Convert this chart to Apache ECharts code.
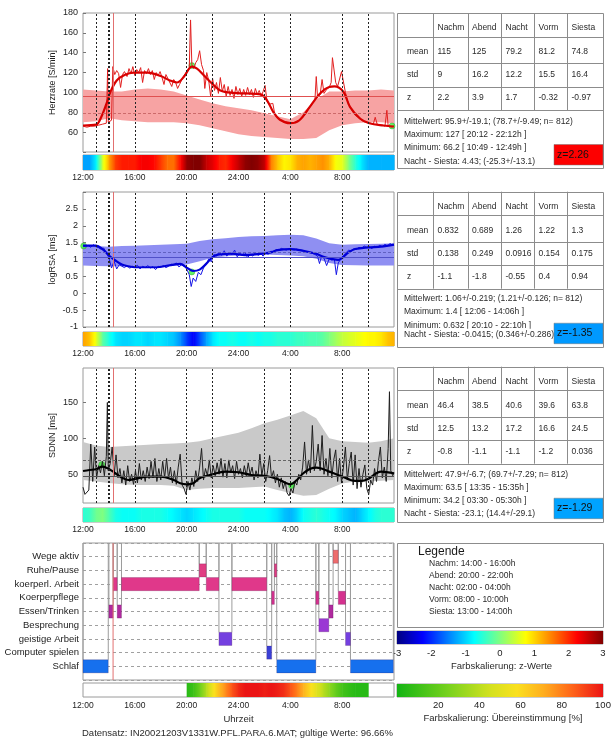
<!DOCTYPE html>
<html>
<head>
<meta charset="utf-8">
<script src="https://cdn.jsdelivr.net/npm/echarts@6/dist/echarts.min.js"></script>
<style>
html,body{margin:0;padding:0;background:#fff}
#chart{width:612px;height:740px}
</style>
</head>
<body>
<div id="chart"></div>
<script>
// ---------- time axis ----------
const timeTicks = ['12:00', '16:00', '20:00', '24:00', '4:00', '8:00'];
const vLines = [1, 1.95, 2, 4, 8, 10, 14, 16, 20, 22];
const redLineHour = 2.32;

// ---------- reference bands (hourly) ----------
const bandHours = [0,1,2,3,4,5,6,7,8,9,10,11,12,13,14,15,16,17,18,19,20,21,22,23,24];
const hrUpper = [103,102,101,101,103,104,103,101,97,93,89,86,84,82,79,76,73,80,93,101,101,102,102,103,102];
const hrLower = [70,71,74,72,71,70,70,70,69,67,64,61,58,56,55,54,53,53,54,62,67,69,70,70,69];
const rsaUpper = [1.41,1.40,1.38,1.40,1.41,1.42,1.44,1.45,1.47,1.55,1.60,1.63,1.67,1.69,1.70,1.72,1.73,1.72,1.62,1.48,1.44,1.45,1.46,1.47,1.48];
const rsaLower = [0.82,0.81,0.80,0.80,0.80,0.80,0.80,0.81,0.85,0.95,1.05,1.10,1.12,1.14,1.15,1.13,1.12,1.10,1.02,0.90,0.84,0.83,0.82,0.82,0.82];
const sdUpper = [95,90,88,89,90,91,92,93,94,96,100,104,108,114,121,126,132,138,128,100,96,95,94,96,100];
const sdLower = [42,40,38,36,35,35,35,34,28,30,31,31,31,32,33,28,24,20,21,30,37,40,40,41,42];

// ---------- heart rate ----------
const hrRaw = [[0,66],[0.3,65],[0.6,66],[0.9,66],[1.2,67],[1.5,68],[1.8,69],[1.9,124],[1.95,70],[2.1,68],[2.2,72],[2.3,126],[2.45,118],[2.6,122],[2.75,119],[2.9,105],[3.05,118],[3.2,121],[3.4,116],[3.55,124],[3.7,119],[3.85,126],[4.0,117],[4.15,123],[4.3,120],[4.45,125],[4.6,110],[4.75,122],[4.9,119],[5.05,124],[5.2,118],[5.35,122],[5.5,113],[5.65,120],[5.8,117],[5.95,121],[6.1,115],[6.25,108],[6.4,118],[6.55,114],[6.7,116],[6.85,106],[7.0,113],[7.15,110],[7.3,104],[7.45,108],[7.6,112],[7.75,116],[7.9,119],[8.05,122],[8.2,125],[8.3,173],[8.4,128],[8.55,124],[8.7,130],[8.85,133],[9.0,142],[9.15,128],[9.3,122],[9.4,104],[9.55,120],[9.7,112],[9.85,96],[10.0,114],[10.15,102],[10.3,110],[10.45,99],[10.6,115],[10.75,101],[10.9,108],[11.05,96],[11.2,106],[11.35,97],[11.5,103],[11.65,94],[11.8,106],[11.95,98],[12.1,104],[12.25,96],[12.4,103],[12.55,97],[12.7,105],[12.85,98],[13.0,103],[13.15,95],[13.3,104],[13.45,98],[13.6,102],[13.75,96],[13.9,101],[14.05,107],[14.2,91],[14.35,88],[14.5,86],[14.65,89],[14.8,78],[14.95,75],[15.1,73],[15.3,72],[15.5,70],[15.7,70],[15.9,69],[16.1,69],[16.3,70],[16.5,71],[16.7,72],[16.9,74],[17.1,77],[17.3,81],[17.5,85],[17.7,89],[17.9,93],[18.0,116],[18.1,95],[18.3,98],[18.45,113],[18.6,99],[18.8,103],[19.0,105],[19.15,110],[19.25,135],[19.4,137],[19.5,110],[19.65,106],[19.8,104],[19.95,121],[20.1,123],[20.25,100],[20.4,92],[20.6,86],[20.8,81],[21.0,77],[21.2,75],[21.4,73],[21.6,71],[21.8,70],[22.0,69],[22.2,69],[22.4,68],[22.55,75],[22.7,68],[22.9,67],[23.1,67],[23.3,66],[23.45,82],[23.55,66],[23.7,66],[23.85,65],[24,66]];
const hrSmooth = [[0,66.7],[1,67.5],[1.4,75],[1.9,92],[2.1,100],[2.6,112],[3.2,117.5],[3.9,120],[5,120],[6,116.5],[6.7,112],[7.25,110],[7.8,116],[8.4,126],[8.8,124],[9.3,117.5],[9.95,109],[10.6,102],[11.6,99.5],[12.6,99],[13.7,98],[14.2,92],[14.7,80],[15.2,72.5],[16,69],[16.7,72],[17.5,85.5],[18.3,99],[19,105.5],[19.4,106],[20.1,100.5],[20.6,85.5],[21.4,73.5],[22.1,69],[23.2,66.7],[24,65.7]];
const hrMarks = [[8.4,127],[23.85,66.2]];
const hrMean = 95.9, hrRef = 78.7;

// ---------- logRSA ----------
const rsaRaw = [[0,1.40],[0.2,1.38],[0.4,1.42],[0.6,1.36],[0.8,1.44],[1.0,1.38],[1.2,1.35],[1.4,1.30],[1.6,1.34],[1.8,1.20],[2.0,1.05],[2.2,0.75],[2.4,0.95],[2.6,0.72],[2.8,0.85],[3.0,0.80],[3.2,0.76],[3.4,0.82],[3.6,0.74],[3.8,0.80],[4.0,0.78],[4.2,0.83],[4.4,0.72],[4.6,0.80],[4.8,0.76],[5.0,0.82],[5.2,0.75],[5.4,0.79],[5.6,0.70],[5.8,0.80],[6.0,0.77],[6.2,0.82],[6.4,0.76],[6.6,0.80],[6.8,0.86],[7.0,0.84],[7.2,0.90],[7.4,0.78],[7.6,0.84],[7.8,0.80],[8.0,0.72],[8.2,0.55],[8.35,0.20],[8.5,0.45],[8.7,0.35],[8.9,0.62],[9.1,0.55],[9.3,0.75],[9.5,0.85],[9.7,1.02],[9.9,0.93],[10.1,1.15],[10.3,1.10],[10.5,1.22],[10.7,1.12],[10.9,1.26],[11.1,1.10],[11.3,1.20],[11.5,1.14],[11.7,1.28],[11.9,1.08],[12.1,1.18],[12.3,1.12],[12.5,1.22],[12.7,1.05],[12.9,1.16],[13.1,1.10],[13.3,1.20],[13.5,1.12],[13.7,1.18],[13.9,1.10],[14.1,1.20],[14.3,1.15],[14.5,1.25],[14.7,1.22],[14.9,1.30],[15.1,1.27],[15.3,1.33],[15.5,1.30],[15.7,1.28],[15.9,1.32],[16.1,1.30],[16.3,1.28],[16.5,1.31],[16.7,1.27],[16.9,1.26],[17.1,1.24],[17.3,1.22],[17.5,1.20],[17.7,1.18],[17.9,1.15],[18.1,1.10],[18.25,0.88],[18.4,1.08],[18.6,1.04],[18.8,0.82],[19.0,1.02],[19.2,0.98],[19.4,1.00],[19.55,0.55],[19.7,0.90],[19.9,1.02],[20.1,1.12],[20.3,1.20],[20.5,1.28],[20.7,1.25],[20.9,1.32],[21.1,1.30],[21.3,1.36],[21.5,1.33],[21.7,1.40],[21.9,1.35],[22.1,1.38],[22.3,1.32],[22.5,1.40],[22.7,1.36],[22.9,1.42],[23.1,1.38],[23.3,1.45],[23.5,1.40],[23.7,1.48],[23.85,1.42],[24,1.44]];
const rsaSmooth = [[0,1.41],[1,1.41],[1.5,1.31],[2,1.12],[2.5,0.97],[3,0.85],[3.5,0.80],[4,0.77],[5.5,0.77],[7,0.85],[7.5,0.87],[8,0.76],[8.5,0.66],[9,0.70],[9.5,0.87],[10,1.07],[10.5,1.15],[11.5,1.17],[12.5,1.13],[13.5,1.16],[14.5,1.21],[15,1.28],[16,1.31],[17,1.26],[18,1.17],[18.5,1.09],[19.2,1.02],[19.7,0.99],[20,1.05],[20.5,1.21],[21,1.31],[22,1.36],[23,1.38],[24,1.44]];
const rsaMarks = [[0.05,1.4],[8.4,0.632]];
const rsaMean = 1.06, rsaRef = 1.21;

// ---------- SDNN ----------
const sdRaw = [[0,32],[0.15,22],[0.3,20],[0.45,28],[0.6,92],[0.75,40],[0.9,88],[1.05,45],[1.2,62],[1.35,52],[1.5,68],[1.65,48],[1.8,75],[1.88,150],[1.95,55],[2.1,65],[2.25,88],[2.4,48],[2.55,77],[2.7,45],[2.85,58],[3.0,38],[3.15,55],[3.3,35],[3.45,62],[3.6,40],[3.75,50],[3.9,36],[4.05,55],[4.2,38],[4.35,65],[4.5,42],[4.65,55],[4.8,40],[4.95,60],[5.1,44],[5.25,68],[5.4,45],[5.55,72],[5.7,40],[5.85,58],[6.0,42],[6.15,68],[6.3,45],[6.45,72],[6.6,44],[6.75,60],[6.9,38],[7.05,55],[7.2,36],[7.35,60],[7.5,78],[7.65,35],[7.8,30],[7.95,22],[8.1,40],[8.25,28],[8.4,45],[8.55,33],[8.7,55],[8.85,40],[9.0,60],[9.15,86],[9.3,42],[9.45,58],[9.6,48],[9.75,70],[9.9,45],[10.05,62],[10.2,48],[10.35,66],[10.5,50],[10.65,72],[10.8,46],[10.95,65],[11.1,45],[11.25,70],[11.4,52],[11.55,62],[11.7,44],[11.85,68],[12.0,50],[12.15,58],[12.3,45],[12.45,62],[12.6,48],[12.75,66],[12.9,50],[13.05,60],[13.2,42],[13.35,55],[13.5,45],[13.65,78],[13.8,48],[13.95,65],[14.1,40],[14.25,55],[14.4,76],[14.55,45],[14.7,55],[14.85,38],[15.0,50],[15.15,32],[15.3,45],[15.45,30],[15.6,40],[15.75,24],[15.9,20],[16.05,30],[16.2,24],[16.35,40],[16.5,35],[16.65,50],[16.8,42],[16.95,60],[17.1,95],[17.25,50],[17.4,70],[17.55,52],[17.7,118],[17.85,55],[18.0,68],[18.15,92],[18.3,55],[18.45,104],[18.6,50],[18.75,72],[18.9,48],[19.05,86],[19.2,45],[19.35,70],[19.5,84],[19.65,40],[19.8,72],[19.95,38],[20.1,60],[20.25,88],[20.4,42],[20.55,65],[20.7,81],[20.85,35],[21.0,77],[21.15,30],[21.3,58],[21.45,32],[21.6,50],[21.75,63],[21.9,30],[22.05,22],[22.2,42],[22.35,35],[22.5,58],[22.65,40],[22.8,68],[22.95,88],[23.1,45],[23.25,60],[23.4,40],[23.55,86],[23.65,165],[23.75,55],[23.9,48],[24,52]];
const sdSmooth = [[0,54.6],[0.5,56],[1,57],[1.5,60.6],[2,57.4],[2.5,51.4],[3,45.4],[3.5,42],[4,43.5],[5,46.8],[6,46.8],[7,42],[7.5,37.5],[8,36],[8.5,37.5],[9,44.4],[10,50],[11,53.7],[12,52.8],[13,49],[14,48],[15,43.5],[15.7,37.5],[16,36],[16.5,42],[17,51.4],[17.5,57.4],[18,59.3],[18.5,57.4],[19,53.7],[20,46.8],[21,40.7],[21.5,40.7],[22,43.5],[23,53.7],[24,51.4]];
const sdMarks = [[1.45,63.5],[16.1,34.2]];
const sdMean = 47.9, sdRef = 69.7;

// ---------- z-value strips (samples every 30 min) ----------
const zHours = Array.from({length: 49}, (_, i) => i * 0.5);
const hrZ  = [-1.3,-1.3,-0.8,0.5,1.3,1.9,2.1,2.1,2.1,2.3,2.3,2.2,1.9,1.6,1.6,2.2,2.9,3.0,3.0,2.6,2.4,2.1,2.0,2.3,2.6,2.9,3.0,2.9,2.6,1.5,1.1,0.8,0.9,1.2,1.3,1.2,1.3,1.4,1.2,0.7,0.6,0.0,-0.5,-0.9,-1.2,-1.2,-1.2,-1.2,-1.2];
const rsaZ = [1.3,1.1,0.6,-0.2,-0.6,-0.9,-1.0,-1.0,-0.9,-0.9,-1.0,-0.9,-0.9,-1.0,-1.1,-1.4,-1.9,-2.3,-1.8,-1.3,-0.9,-0.7,-0.7,-0.6,-0.7,-0.7,-0.6,-0.7,-0.6,-0.6,-0.5,-0.5,-0.5,-0.4,-0.4,-0.3,-0.3,-0.2,0.0,0.2,0.4,0.5,0.6,0.7,0.8,0.8,0.9,1.1,1.2];
const sdZ  = [-0.5,-0.4,-0.1,0.0,-0.3,-0.6,-0.7,-0.7,-0.7,-0.6,-0.6,-0.6,-0.6,-0.7,-0.8,-0.9,-1.0,-0.9,-0.8,-0.7,-0.6,-0.6,-0.6,-0.6,-0.6,-0.7,-0.7,-0.7,-0.7,-0.8,-0.9,-1.1,-1.2,-1.0,-0.7,-0.6,-0.5,-0.6,-0.7,-0.8,-1.0,-1.1,-1.2,-1.0,-0.8,-0.6,-0.5,-0.5,-0.5];

// ---------- agreement with reference [%] ----------
const matchHours = [8,8.5,9,9.5,10,10.5,11,11.5,12,12.5,13,13.5,14,14.5,15,15.5,16,16.5,17,17.5,18,18.5,19,19.5,20,20.5,21,21.5,22];
const matchVals  = [5,10,22,38,55,68,78,88,96,100,100,100,98,100,98,95,88,80,70,60,50,40,30,20,12,8,5,5,5];

// ---------- activity log ----------
const actNames = ['Schlaf','Computer spielen','geistige Arbeit','Besprechung','Essen/Trinken','Koerperpflege','koerperl. Arbeit','Ruhe/Pause','Wege aktiv'];
const actColors = ['#1670ee','#3a40d6','#7440e0','#9a38d4','#b02a9e','#d4318e','#e0388a','#e03c82','#ee6c6c'];
const activities = [
  [0,1.95,1],[14.95,17.97,1],[20.64,23.95,1],
  [14.18,14.56,2],
  [10.49,11.49,3],[20.26,20.64,3],
  [18.2,18.97,4],
  [2.0,2.33,5],[2.64,2.97,5],[18.97,19.3,5],
  [14.56,14.77,6],[17.97,18.2,6],[19.7,20.26,6],
  [2.33,2.64,7],[2.97,8.97,7],[9.51,10.49,7],[11.49,14.18,7],
  [8.97,9.51,8],[14.77,14.95,8],
  [19.3,19.7,9]
];

// ---------- summary tables ----------
const periods = ['Nachm','Abend','Nacht','Vorm','Siesta'];
const hrMeanRow = ['115','125','79.2','81.2','74.8'];
const hrStdRow  = ['9','16.2','12.2','15.5','16.4'];
const hrZRow    = ['2.2','3.9','1.7','-0.32','-0.97'];
const rsaMeanRow = ['0.832','0.689','1.26','1.22','1.3'];
const rsaStdRow  = ['0.138','0.249','0.0916','0.154','0.175'];
const rsaZRow    = ['-1.1','-1.8','-0.55','0.4','0.94'];
const sdMeanRow = ['46.4','38.5','40.6','39.6','63.8'];
const sdStdRow  = ['12.5','13.2','17.2','16.6','24.5'];
const sdZRow    = ['-0.8','-1.1','-1.1','-1.2','0.036'];
const hrInfo = ['Mittelwert: 95.9+/-19.1; (78.7+/-9.49; n= 812)','Maximum: 127 [ 20:12 - 22:12h ]','Minimum: 66.2 [ 10:49 - 12:49h ]','Nacht - Siesta: 4.43; (-25.3+/-13.1)'];
const rsaInfo = ['Mittelwert: 1.06+/-0.219; (1.21+/-0.126; n= 812)','Maximum: 1.4 [ 12:06 - 14:06h ]','Minimum: 0.632 [ 20:10 - 22:10h ]','Nacht - Siesta: -0.0415; (0.346+/-0.286)'];
const sdInfo = ['Mittelwert: 47.9+/-6.7; (69.7+/-7.29; n= 812)','Maximum: 63.5 [ 13:35 - 15:35h ]','Minimum: 34.2 [ 03:30 - 05:30h ]','Nacht - Siesta: -23.1; (14.4+/-29.1)'];
const hrZTotal = 2.26, rsaZTotal = -1.35, sdZTotal = -1.29;
const legendLines = ['Nachm: 14:00 - 16:00h','Abend: 20:00 - 22:00h','Nacht: 02:00 - 04:00h','Vorm: 08:00 - 10:00h','Siesta: 13:00 - 14:00h'];

// ---------- colour maps ----------
const FONT = 'Liberation Sans, Arial, sans-serif';
function clamp01(v) { return Math.max(0, Math.min(1, v)); }
function jet(z) {
  const t = clamp01((z + 3) / 6);
  const r = clamp01(1.5 - Math.abs(4 * t - 3));
  const g = clamp01(1.5 - Math.abs(4 * t - 2));
  const b = clamp01(1.5 - Math.abs(4 * t - 1));
  return 'rgb(' + Math.round(r * 255) + ',' + Math.round(g * 255) + ',' + Math.round(b * 255) + ')';
}
const matchStops = [[0,[20,180,20]],[25,[120,210,30]],[45,[210,225,30]],[58,[250,225,30]],[72,[255,170,30]],[85,[255,100,25]],[100,[235,20,20]]];
function matchColor(p) {
  p = Math.max(0, Math.min(100, p));
  for (let i = 1; i < matchStops.length; i++) {
    const [p1, c1] = matchStops[i], [p0, c0] = matchStops[i - 1];
    if (p <= p1) {
      const f = (p - p0) / (p1 - p0);
      return 'rgb(' + c0.map((c, k) => Math.round(c + (c1[k] - c) * f)).join(',') + ')';
    }
  }
  return 'rgb(235,20,20)';
}

// reference band: one polygon through upper edge, back along lower edge
function bandRender(color) {
  return function (params, api) {
    if (params.dataIndexInside !== 0) return null;
    const n = params.dataInsideLength;
    const pts = [];
    for (let i = 0; i < n; i++) pts.push(api.coord([api.value(0, i), api.value(2, i)]));
    for (let i = n - 1; i >= 0; i--) pts.push(api.coord([api.value(0, i), api.value(1, i)]));
    return {type: 'polygon', shape: {points: pts}, style: {fill: color}};
  };
}
// strip cells: each cell spans two samples and blends their colours
function stripRender(colorFn) {
  return function (params, api) {
    const x0 = api.value(0), x1 = api.value(1), v0 = api.value(2), v1 = api.value(3);
    const p0 = api.coord([x0, 1]);
    const p1 = api.coord([x1, 0]);
    const stops = [];
    for (let k = 0; k <= 4; k++) {
      const t = k / 4;
      stops.push({offset: t, color: colorFn(v0 + (v1 - v0) * t)});
    }
    return {
      type: 'rect',
      shape: {x: p0[0], y: p0[1], width: p1[0] - p0[0] + 0.6, height: p1[1] - p0[1]},
      style: {fill: new echarts.graphic.LinearGradient(0, 0, 1, 0, stops)}
    };
  };
}
function segments(hours, vals) {
  return hours.slice(0, -1).map((h, i) => [h, hours[i + 1], vals[i], vals[i + 1]]);
}
// colour scale bars
function scaleRender(colorFn, lo, hi) {
  return function (params, api) {
    const p0 = api.coord([api.value(0), 1]);
    const p1 = api.coord([api.value(1), 0]);
    const stops = [];
    for (let k = 0; k <= 24; k++) {
      const t = k / 24;
      stops.push({offset: t, color: colorFn(lo + (hi - lo) * t)});
    }
    return {
      type: 'rect',
      shape: {x: p0[0], y: p0[1], width: p1[0] - p0[0], height: p1[1] - p0[1]},
      style: {fill: new echarts.graphic.LinearGradient(0, 0, 1, 0, stops)}
    };
  };
}
function activityRender(params, api) {
  const s = api.value(0), e = api.value(1), c = api.value(2);
  const tl = api.coord([s, c + 0.48]);
  const br = api.coord([e, c - 0.48]);
  const top = api.coord([s, 10])[1];
  const color = actColors[c - 1];
  return {
    type: 'group',
    children: [
      {type: 'line', shape: {x1: tl[0], y1: top, x2: tl[0], y2: tl[1]}, style: {stroke: '#9c9c9c', lineWidth: 1}},
      {type: 'line', shape: {x1: br[0], y1: top, x2: br[0], y2: tl[1]}, style: {stroke: '#9c9c9c', lineWidth: 1}},
      {type: 'rect', shape: {x: tl[0], y: tl[1], width: br[0] - tl[0], height: br[1] - tl[1]},
       style: {fill: color, stroke: 'rgba(60,0,60,0.35)', lineWidth: 0.6}}
    ]
  };
}

// ---------- layout ----------
const L = 83, W = 311;
const grids = [
  {left: L, top: 13,  width: W, height: 139},
  {left: L, top: 155, width: W, height: 15},
  {left: L, top: 192, width: W, height: 135},
  {left: L, top: 332, width: W, height: 14},
  {left: L, top: 368, width: W, height: 135},
  {left: L, top: 508, width: W, height: 14},
  {left: L, top: 543, width: W, height: 137},
  {left: L, top: 683, width: W, height: 14},
  {left: 397, top: 631, width: 206, height: 13},
  {left: 397, top: 684, width: 206, height: 13}
].map(g => Object.assign({show: true, borderColor: '#9a9a9a', borderWidth: 1, backgroundColor: '#fff', outerBoundsMode: 'none'}, g));

function timeAxis(gi, showLabels, margin) {
  return {
    type: 'value', gridIndex: gi, min: 0, max: 24, interval: 4,
    axisLine: {show: false}, axisTick: {show: false}, splitLine: {show: false},
    axisLabel: {show: showLabels, margin: margin, fontSize: 8.5, color: '#222', fontFamily: FONT,
      formatter: v => v < 24 && timeTicks[Math.round(v / 4)] !== undefined ? timeTicks[Math.round(v / 4)] : ''}
  };
}
const xAxes = [
  timeAxis(0, false, 3), timeAxis(1, true, 3),
  timeAxis(2, false, 3), timeAxis(3, true, 3),
  timeAxis(4, false, 3), timeAxis(5, true, 3),
  timeAxis(6, false, 3), timeAxis(7, true, 4),
  {type: 'value', gridIndex: 8, min: -3, max: 3, interval: 1, axisLine: {show: false},
   axisTick: {show: false}, splitLine: {show: false},
   axisLabel: {margin: 4, fontSize: 9.5, color: '#222', fontFamily: FONT}},
  {type: 'value', gridIndex: 9, min: 0, max: 100, interval: 20, axisLine: {show: false},
   axisTick: {show: false}, splitLine: {show: false},
   axisLabel: {margin: 3, fontSize: 9.5, color: '#222', fontFamily: FONT, formatter: v => v === 0 ? '' : String(v)}}
];

const tickStyle = {show: true, inside: true, length: 3, lineStyle: {color: '#777'}};
const labelStyle = {fontSize: 9, color: '#222', margin: 5, fontFamily: FONT};
const nameStyle = {fontSize: 9, color: '#222', fontFamily: FONT};
function hiddenY(gi) { return {type: 'value', gridIndex: gi, min: 0, max: 1, show: false}; }
const yAxes = [
  {type: 'value', gridIndex: 0, min: 40, max: 180, interval: 20, name: 'Herzrate [S/min]',
   nameLocation: 'middle', nameGap: 26, nameMoveOverlap: false, nameTextStyle: nameStyle,
   axisLine: {show: false}, axisTick: tickStyle, splitLine: {show: false},
   axisLabel: Object.assign({}, labelStyle, {formatter: v => v === 40 ? '' : String(v)})},
  hiddenY(1),
  {type: 'value', gridIndex: 2, min: -1, max: 3, interval: 0.5, name: 'logRSA [ms]',
   nameLocation: 'middle', nameGap: 26, nameMoveOverlap: false, nameTextStyle: nameStyle,
   axisLine: {show: false}, axisTick: tickStyle, splitLine: {show: false},
   axisLabel: Object.assign({}, labelStyle, {formatter: v => v === 3 ? '' : String(v)})},
  hiddenY(3),
  {type: 'value', gridIndex: 4, min: 10, max: 198, name: 'SDNN [ms]',
   nameLocation: 'middle', nameGap: 26, nameMoveOverlap: false, nameTextStyle: nameStyle,
   axisLine: {show: false}, axisTick: Object.assign({customValues: [50, 100, 150]}, tickStyle),
   splitLine: {show: false},
   axisLabel: Object.assign({customValues: [50, 100, 150]}, labelStyle)},
  hiddenY(5),
  {type: 'value', gridIndex: 6, min: 0, max: 10, interval: 1,
   axisLine: {show: false}, axisTick: {show: false},
   splitLine: {show: true, lineStyle: {type: [3, 3], color: '#a0a0a0', width: 1}},
   axisLabel: {fontSize: 9.5, color: '#222', margin: 4, fontFamily: FONT, formatter: v => actNames[v - 1] || ''}},
  hiddenY(7), hiddenY(8), hiddenY(9)
];

// ---------- series ----------
function guideLines(meanVal, refVal, meanColor, refColor) {
  return {
    silent: true, symbol: ['none', 'none'], label: {show: false}, animation: false,
    lineStyle: {type: [2, 2], color: '#222', width: 1},
    data: vLines.map(h => ({xAxis: h}))
      .concat([{xAxis: redLineHour, lineStyle: {type: 'solid', color: '#e27070', width: 1}}])
      .concat([{yAxis: meanVal, lineStyle: {type: 'solid', color: meanColor, width: 1}}])
      .concat([{yAxis: refVal, lineStyle: {type: [3, 2], color: refColor, width: 1}}])
  };
}
function panelSeries(ai, upper, lower, bandColor, raw, smooth, marks, rawColor, smoothColor, meanVal, refVal, meanColor, refColor) {
  return [
    {type: 'custom', xAxisIndex: ai, yAxisIndex: ai, silent: true, renderItem: bandRender(bandColor),
     data: bandHours.map((h, i) => [h, lower[i], upper[i]])},
    {type: 'line', xAxisIndex: ai, yAxisIndex: ai, symbol: 'none', silent: true,
     lineStyle: {width: 1, color: rawColor}, data: raw,
     markLine: guideLines(meanVal, refVal, meanColor, refColor)},
    {type: 'line', xAxisIndex: ai, yAxisIndex: ai, symbol: 'none', silent: true, smooth: 0.35,
     lineStyle: {width: 2.2, color: smoothColor}, data: smooth},
    {type: 'scatter', xAxisIndex: ai, yAxisIndex: ai, symbol: 'circle', symbolSize: 6, silent: true,
     itemStyle: {color: '#3cf03c', borderColor: '#22a022', borderWidth: 0.5}, data: marks}
  ];
}
function stripSeries(ai, hours, vals, colorFn) {
  return {type: 'custom', xAxisIndex: ai, yAxisIndex: ai, silent: true,
    renderItem: stripRender(colorFn), data: segments(hours, vals)};
}

const series = [].concat(
  panelSeries(0, hrUpper, hrLower, '#f7a3a3', hrRaw, hrSmooth, hrMarks, '#e22020', '#d80000', hrMean, hrRef, '#e05050', '#cc6a6a'),
  [stripSeries(1, zHours, hrZ, jet)],
  panelSeries(2, rsaUpper, rsaLower, '#8f8ff2', rsaRaw, rsaSmooth, rsaMarks, '#1414e6', '#0000d8', rsaMean, rsaRef, '#5050c8', '#6060c0'),
  [stripSeries(3, zHours, rsaZ, jet)],
  panelSeries(4, sdUpper, sdLower, '#c9c9c9', sdRaw, sdSmooth, sdMarks, '#1e1e1e', '#000000', sdMean, sdRef, '#555555', '#666666'),
  [stripSeries(5, zHours, sdZ, jet)],
  [
    {type: 'custom', xAxisIndex: 6, yAxisIndex: 6, silent: true, renderItem: activityRender, data: activities},
    {type: 'line', xAxisIndex: 6, yAxisIndex: 6, symbol: 'none', silent: true,
     lineStyle: {width: 1, color: '#e27070'}, data: [[redLineHour, 0], [redLineHour, 10]]},
    stripSeries(7, matchHours, matchVals, matchColor),
    {type: 'custom', xAxisIndex: 8, yAxisIndex: 8, silent: true, renderItem: scaleRender(jet, -3, 3), data: [[-3, 3]]},
    {type: 'custom', xAxisIndex: 9, yAxisIndex: 9, silent: true, renderItem: scaleRender(matchColor, 0, 100), data: [[0, 100]]}
  ]
);

// ---------- tables and text ----------
const colX = [397, 433, 467.5, 501, 534, 567, 603];
const rowLines = [23.5, 50, 73.5, 97];
const rowText = [15, 38.7, 62, 85];
function px(v) { return Math.round(v) + 0.5; }
function txt(x, y, s, size, extra) {
  return Object.assign({type: 'text', x: x, y: y, z: 10, silent: true,
    style: Object.assign({text: s, fill: '#2a2a2a', fontSize: size, fontFamily: FONT, align: 'left', verticalAlign: 'middle'}, extra || {})});
}
function tableGraphic(top, meanRow, stdRow, zRow, info, zTotal, infoOffsets, lastBg) {
  const els = [];
  els.push({type: 'rect', z: 5, silent: true, shape: {x: px(397), y: px(top), width: 206, height: 155},
    style: {fill: '#fff', stroke: '#8c8c8c', lineWidth: 1}});
  rowLines.forEach(o => els.push({type: 'line', z: 6, silent: true,
    shape: {x1: 397, y1: px(top + o), x2: 603, y2: px(top + o)}, style: {stroke: '#8c8c8c', lineWidth: 1}}));
  colX.slice(1, 6).forEach(x => els.push({type: 'line', z: 6, silent: true,
    shape: {x1: px(x), y1: top, x2: px(x), y2: top + 97}, style: {stroke: '#8c8c8c', lineWidth: 1}}));
  periods.forEach((p, i) => els.push(txt(colX[i + 1] + 4.5, top + rowText[0], p, 8.5)));
  [['mean', meanRow], ['std', stdRow], ['z', zRow]].forEach(([name, row], r) => {
    els.push(txt(407, top + rowText[r + 1], name, 8.5));
    row.forEach((v, i) => els.push(txt(colX[i + 1] + 4.5, top + rowText[r + 1], v, 8.5)));
  });
  info.forEach((line, i) => {
    const extra = (lastBg && i === info.length - 1) ? {backgroundColor: '#fff', padding: [1, 1, 1, 0]} : null;
    els.push(txt(404, top + 97 + infoOffsets[i], line, 8.5, extra));
  });
  els.push({type: 'rect', z: 12, silent: true, shape: {x: 554, y: top + 97 + 34.5, width: 49, height: 20.5},
    style: {fill: jet(zTotal), stroke: '#777', lineWidth: 0.5}});
  els.push(Object.assign(txt(557, top + 97 + 44.8, 'z=' + zTotal, 10.5, {fill: '#111'}), {z: 13}));
  return els;
}

const graphics = [].concat(
  tableGraphic(13, hrMeanRow, hrStdRow, hrZRow, hrInfo, hrZTotal, [11.5, 25, 38, 51.5], false),
  tableGraphic(191.7, rsaMeanRow, rsaStdRow, rsaZRow, rsaInfo, rsaZTotal, [10, 23, 36.5, 45.5], true),
  tableGraphic(366.7, sdMeanRow, sdStdRow, sdZRow, sdInfo, sdZTotal, [10.6, 23.6, 37, 49.6], false),
  [
    {type: 'rect', z: 5, silent: true, shape: {x: px(397), y: px(543), width: 206, height: 84},
     style: {fill: '#fff', stroke: '#8c8c8c', lineWidth: 1}},
    txt(418, 551.5, 'Legende', 12, {fill: '#1a1a1a'})
  ],
  legendLines.map((s, i) => txt(429, 564 + i * 12, s, 8.5)),
  [
    txt(501.5, 666, 'Farbskalierung: z-Werte', 9.5, {align: 'center'}),
    txt(503, 718, 'Farbskalierung: \u00dcbereinstimmung [%]', 9.5, {align: 'center'}),
    txt(238.5, 719.5, 'Uhrzeit', 9.5, {align: 'center'}),
    txt(82, 733, 'Datensatz: IN20021203V1331W.PFL.PARA.6.MAT; g\u00fcltige Werte: 96.66%', 9.5)
  ]
);

const chart = echarts.init(document.getElementById('chart'), null, {renderer: 'canvas'});
chart.setOption({
  animation: false,
  backgroundColor: '#fff',
  textStyle: {fontFamily: FONT},
  grid: grids,
  xAxis: xAxes,
  yAxis: yAxes,
  series: series,
  graphic: graphics
});
</script>
</body>
</html>
